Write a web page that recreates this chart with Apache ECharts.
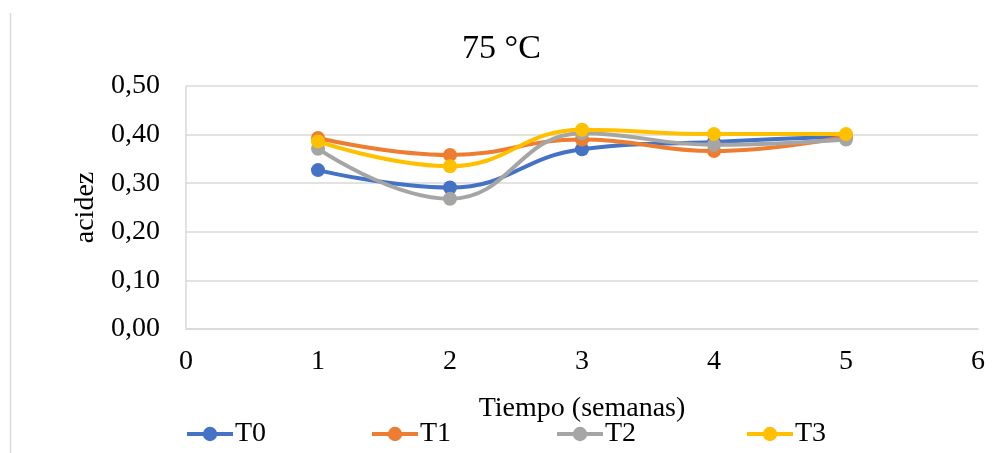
<!DOCTYPE html>
<html>
<head>
<meta charset="utf-8">
<script src="https://cdn.jsdelivr.net/npm/echarts@6/dist/echarts.min.js"></script>
<style>html,body{margin:0;padding:0;background:#fff}#c{width:1003px;height:453px}</style>
</head>
<body>
<div id="c"></div>
<script>
var weeks = [1, 2, 3, 4, 5];
var seriesNames = ['T0', 'T1', 'T2', 'T3'];
var T0 = [0.327, 0.291, 0.370, 0.385, 0.396];
var T1 = [0.393, 0.358, 0.390, 0.366, 0.396];
var T2 = [0.371, 0.268, 0.403, 0.379, 0.390];
var T3 = [0.386, 0.335, 0.410, 0.401, 0.401];
var colors = ['#4472C4', '#ED7D31', '#A5A5A5', '#FFC000'];
var allValues = [T0, T1, T2, T3];

var font = 'Liberation Serif, Times New Roman, serif';
var chart = echarts.init(document.getElementById('c'));

var series = seriesNames.map(function (n, i) {
  return {
    name: n,
    type: 'line',
    smooth: 0.45,
    data: weeks.map(function (w, j) { return [w, allValues[i][j]]; }),
    symbol: 'circle',
    symbolSize: 14,
    lineStyle: { width: 4, color: colors[i] },
    itemStyle: { color: colors[i] },
    z: 2 + i
  };
});

var legendLefts = [185, 370, 555, 745];
var legends = seriesNames.map(function (n, i) {
  return {
    data: [n],
    left: legendLefts[i],
    top: 420,
    padding: 0,
    itemWidth: 46,
    itemHeight: 18,
    itemGap: 0,
    lineStyle: { width: 4 },
    textStyle: { fontFamily: font, fontSize: 28, color: '#000', padding: [0, 0, 0, -3] }
  };
});

chart.setOption({
  animation: false,
  color: colors,
  title: {
    text: '75 °C',
    left: 'center',
    top: 27,
    textStyle: { fontFamily: font, fontSize: 34, fontWeight: 'normal', color: '#000' }
  },
  legend: legends,
  grid: { left: 186, right: 25, top: 86, bottom: 124 },
  xAxis: {
    type: 'value',
    min: 0, max: 6, interval: 1,
    name: 'Tiempo (semanas)',
    nameLocation: 'middle',
    nameGap: 66,
    nameTextStyle: { fontFamily: font, fontSize: 28, color: '#000' },
    axisLine: { show: true, lineStyle: { color: '#d9d9d9', width: 1.5 } },
    axisTick: { show: false },
    splitLine: { show: false },
    axisLabel: { fontFamily: font, fontSize: 28, color: '#000', margin: 19 }
  },
  yAxis: {
    type: 'value',
    min: 0, max: 0.5, interval: 0.1,
    name: 'acidez',
    nameLocation: 'middle',
    nameGap: 86,
    nameTextStyle: { fontFamily: font, fontSize: 28, color: '#000' },
    axisLine: { show: true, lineStyle: { color: '#d9d9d9', width: 1.5 } },
    axisTick: { show: false },
    splitLine: { show: true, lineStyle: { color: '#d9d9d9', width: 1.5 } },
    axisLabel: {
      fontFamily: font, fontSize: 28, color: '#000', margin: 26,
      formatter: function (v) { return v.toFixed(2).replace('.', ','); }
    }
  },
  graphic: [{
    type: 'line',
    shape: { x1: 10.5, y1: 13, x2: 10.5, y2: 453 },
    style: { stroke: '#d9d9d9', lineWidth: 1.5 }
  }],
  series: series
});
</script>
</body>
</html>
